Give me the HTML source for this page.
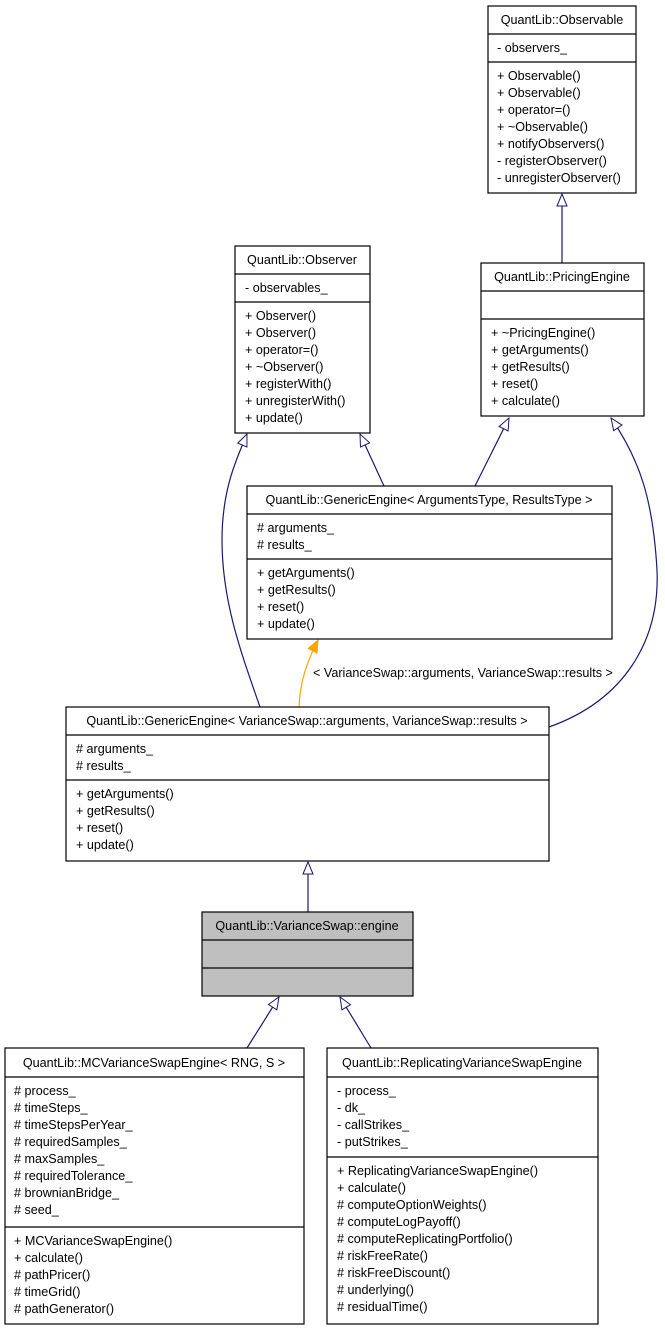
<!DOCTYPE html>
<html><head><meta charset="utf-8"><style>
html,body{margin:0;padding:0;background:#fff;}
svg{display:block;font-family:"Liberation Sans",Arial,sans-serif;font-size:12.6px;}
</style></head><body>
<svg width="665" height="1331" viewBox="0 0 665 1331" xmlns="http://www.w3.org/2000/svg">
<defs>
<marker id="a" markerUnits="userSpaceOnUse" markerWidth="14" markerHeight="14" refX="13" refY="6" orient="auto">
<path d="M1,1 L13,6 L1,11 Z" fill="#fff" stroke="#191970" stroke-width="1"/>
</marker>
<marker id="o" markerUnits="userSpaceOnUse" markerWidth="14" markerHeight="14" refX="13" refY="6" orient="auto">
<path d="M1,1 L13,6 L1,11 Z" fill="orange" stroke="orange" stroke-width="1"/>
</marker>
</defs>
<g fill="none" stroke="#191970" stroke-width="1.2">
<path d="M562,263 L562,194" marker-end="url(#a)"/>
<path d="M384,486 L360,434" marker-end="url(#a)"/>
<path d="M475,486 L509,418" marker-end="url(#a)"/>
<path d="M260,707 C240,650 222,600 222,540 C222,490 236,460 247,434" marker-end="url(#a)"/>
<path d="M549,727 C625,700 660,640 657,570 C653,500 640,460 611,418" marker-end="url(#a)"/>
<path d="M308,912 L308,862" marker-end="url(#a)"/>
<path d="M247,1048 L279,997" marker-end="url(#a)"/>
<path d="M371,1048 L340,997" marker-end="url(#a)"/>
</g>
<path d="M299,707 C300,680 308,660 318,640" fill="none" stroke="orange" stroke-width="1.2" marker-end="url(#o)"/>
<text x="313" y="677">&lt; VarianceSwap::arguments, VarianceSwap::results &gt;</text>

<g stroke="#000" stroke-width="1.2" fill="#fff">
<rect x="488" y="6" width="148" height="187"/><line x1="488" y1="34" x2="636" y2="34"/><line x1="488" y1="62" x2="636" y2="62"/>
<rect x="235" y="246" width="135" height="187"/><line x1="235" y1="274" x2="370" y2="274"/><line x1="235" y1="302" x2="370" y2="302"/>
<rect x="481" y="263" width="163" height="153"/><line x1="481" y1="291" x2="644" y2="291"/><line x1="481" y1="319" x2="644" y2="319"/>
<rect x="247" y="486" width="365" height="153"/><line x1="247" y1="514" x2="612" y2="514"/><line x1="247" y1="559" x2="612" y2="559"/>
<rect x="66" y="707" width="483" height="154"/><line x1="66" y1="735" x2="549" y2="735"/><line x1="66" y1="780" x2="549" y2="780"/>
<rect x="202" y="912" width="211" height="84" fill="#bfbfbf"/><line x1="202" y1="940" x2="413" y2="940"/><line x1="202" y1="968" x2="413" y2="968"/>
<rect x="5" y="1048" width="299" height="276"/><line x1="5" y1="1077" x2="304" y2="1077"/><line x1="5" y1="1227" x2="304" y2="1227"/>
<rect x="327" y="1048" width="271" height="276"/><line x1="327" y1="1077" x2="598" y2="1077"/><line x1="327" y1="1157" x2="598" y2="1157"/>
</g>

<g fill="#000">
<text x="562" y="24" text-anchor="middle">QuantLib::Observable</text>
<text x="497" y="52">- observers_</text>
<text x="497" y="80">+ Observable()</text><text x="497" y="97">+ Observable()</text><text x="497" y="114">+ operator=()</text><text x="497" y="131">+ ~Observable()</text><text x="497" y="148">+ notifyObservers()</text><text x="497" y="165">- registerObserver()</text><text x="497" y="182">- unregisterObserver()</text>

<text x="302" y="264" text-anchor="middle">QuantLib::Observer</text>
<text x="245" y="292">- observables_</text>
<text x="245" y="320">+ Observer()</text><text x="245" y="337">+ Observer()</text><text x="245" y="354">+ operator=()</text><text x="245" y="371">+ ~Observer()</text><text x="245" y="388">+ registerWith()</text><text x="245" y="405">+ unregisterWith()</text><text x="245" y="422">+ update()</text>

<text x="562" y="281" text-anchor="middle">QuantLib::PricingEngine</text>
<text x="491" y="337">+ ~PricingEngine()</text><text x="491" y="354">+ getArguments()</text><text x="491" y="371">+ getResults()</text><text x="491" y="388">+ reset()</text><text x="491" y="405">+ calculate()</text>

<text x="429" y="504" text-anchor="middle">QuantLib::GenericEngine&lt; ArgumentsType, ResultsType &gt;</text>
<text x="257" y="532"># arguments_</text><text x="257" y="549"># results_</text>
<text x="257" y="577">+ getArguments()</text><text x="257" y="594">+ getResults()</text><text x="257" y="611">+ reset()</text><text x="257" y="628">+ update()</text>

<text x="307" y="725" text-anchor="middle">QuantLib::GenericEngine&lt; VarianceSwap::arguments, VarianceSwap::results &gt;</text>
<text x="76" y="753"># arguments_</text><text x="76" y="770"># results_</text>
<text x="76" y="798">+ getArguments()</text><text x="76" y="815">+ getResults()</text><text x="76" y="832">+ reset()</text><text x="76" y="849">+ update()</text>

<text x="307" y="930" text-anchor="middle">QuantLib::VarianceSwap::engine</text>

<text x="154" y="1067" text-anchor="middle">QuantLib::MCVarianceSwapEngine&lt; RNG, S &gt;</text>
<text x="14" y="1095"># process_</text><text x="14" y="1112"># timeSteps_</text><text x="14" y="1129"># timeStepsPerYear_</text><text x="14" y="1146"># requiredSamples_</text><text x="14" y="1163"># maxSamples_</text><text x="14" y="1180"># requiredTolerance_</text><text x="14" y="1197"># brownianBridge_</text><text x="14" y="1214"># seed_</text>
<text x="14" y="1245">+ MCVarianceSwapEngine()</text><text x="14" y="1262">+ calculate()</text><text x="14" y="1279"># pathPricer()</text><text x="14" y="1296"># timeGrid()</text><text x="14" y="1313"># pathGenerator()</text>

<text x="462" y="1067" text-anchor="middle">QuantLib::ReplicatingVarianceSwapEngine</text>
<text x="337" y="1095">- process_</text><text x="337" y="1112">- dk_</text><text x="337" y="1129">- callStrikes_</text><text x="337" y="1146">- putStrikes_</text>
<text x="337" y="1175">+ ReplicatingVarianceSwapEngine()</text><text x="337" y="1192">+ calculate()</text><text x="337" y="1209"># computeOptionWeights()</text><text x="337" y="1226"># computeLogPayoff()</text><text x="337" y="1243"># computeReplicatingPortfolio()</text><text x="337" y="1260"># riskFreeRate()</text><text x="337" y="1277"># riskFreeDiscount()</text><text x="337" y="1294"># underlying()</text><text x="337" y="1311"># residualTime()</text>
</g>
</svg>
</body></html>
